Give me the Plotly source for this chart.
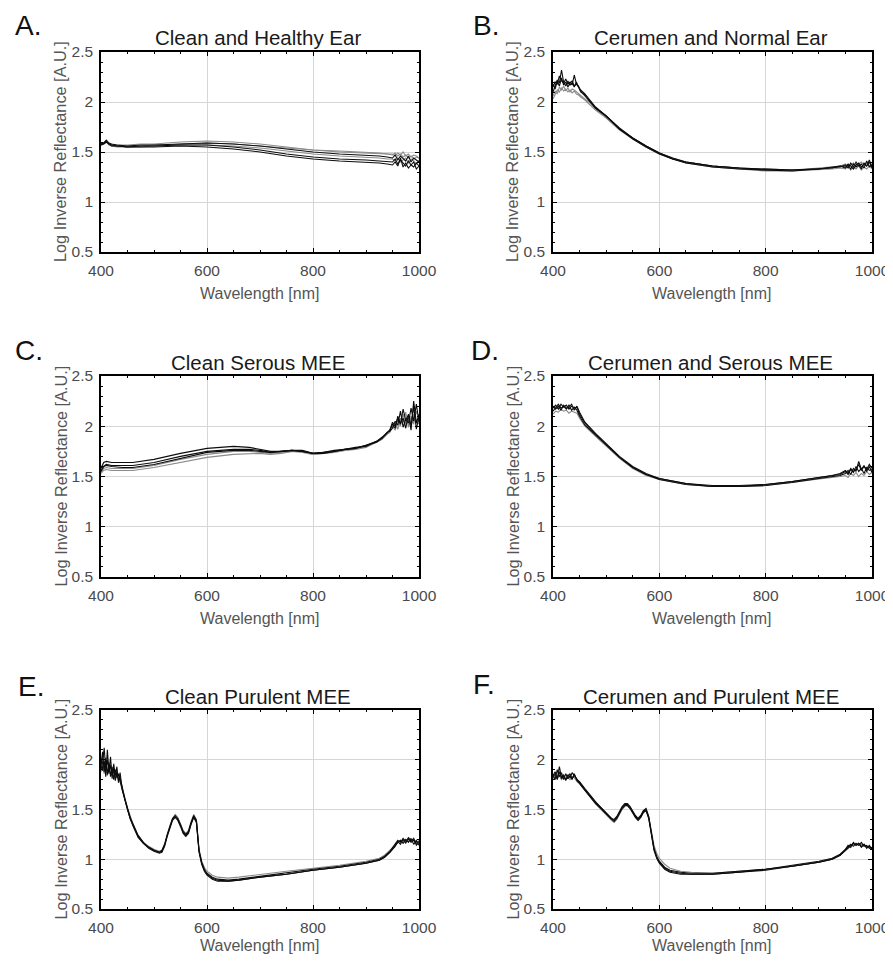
import plotly.graph_objects as go

# ---------------- DATA ----------------
panel_letters = ["A.", "B.", "C.", "D.", "E.", "F."]
panel_titles = ["Clean and Healthy Ear", "Cerumen and Normal Ear", "Clean Serous MEE",
                "Cerumen and Serous MEE", "Clean Purulent MEE", "Cerumen and Purulent MEE"]
x_title = "Wavelength [nm]"
y_title = "Log Inverse Reflectance [A.U.]"
x_ticks = [400, 600, 800, 1000]
y_ticks = [0.5, 1, 1.5, 2, 2.5]

# Panel A
wl_a = [400, 405, 410, 415, 420, 430, 450, 475, 500, 550, 600, 650, 700, 750, 800, 850, 900, 925, 940, 950,
        955, 960, 965, 970, 975, 980, 985, 990, 995, 1000]
a_1 = [1.57, 1.58, 1.60, 1.58, 1.57, 1.57, 1.57, 1.58, 1.58, 1.60, 1.61, 1.60, 1.58, 1.55, 1.52, 1.50, 1.49, 1.48, 1.48, 1.47,
       1.49, 1.46, 1.48, 1.45, 1.47, 1.44, 1.46, 1.43, 1.45, 1.44]
a_2 = [1.58, 1.59, 1.62, 1.59, 1.58, 1.57, 1.56, 1.57, 1.57, 1.58, 1.59, 1.58, 1.56, 1.53, 1.50, 1.48, 1.47, 1.46, 1.45, 1.44,
       1.47, 1.42, 1.46, 1.43, 1.41, 1.46, 1.40, 1.44, 1.42, 1.40]
a_3 = [1.57, 1.58, 1.60, 1.58, 1.57, 1.56, 1.56, 1.56, 1.57, 1.57, 1.57, 1.56, 1.54, 1.51, 1.48, 1.46, 1.45, 1.44, 1.43, 1.43,
       1.41, 1.44, 1.40, 1.42, 1.44, 1.39, 1.43, 1.41, 1.38, 1.42]
a_4 = [1.58, 1.59, 1.61, 1.58, 1.57, 1.56, 1.55, 1.56, 1.56, 1.57, 1.57, 1.55, 1.52, 1.48, 1.45, 1.43, 1.42, 1.41, 1.40, 1.40,
       1.43, 1.38, 1.42, 1.39, 1.36, 1.41, 1.37, 1.35, 1.39, 1.36]
a_5 = [1.57, 1.58, 1.60, 1.58, 1.56, 1.56, 1.55, 1.55, 1.55, 1.56, 1.55, 1.53, 1.50, 1.46, 1.43, 1.41, 1.40, 1.39, 1.38, 1.37,
       1.40, 1.36, 1.44, 1.35, 1.39, 1.34, 1.37, 1.40, 1.33, 1.36]
a_6 = [1.57, 1.58, 1.60, 1.57, 1.56, 1.55, 1.55, 1.55, 1.56, 1.58, 1.59, 1.58, 1.56, 1.54, 1.52, 1.51, 1.50, 1.49, 1.48, 1.48,
       1.46, 1.49, 1.47, 1.50, 1.46, 1.48, 1.45, 1.47, 1.46, 1.44]

# Panel B
wl_b = [400, 404, 408, 412, 416, 420, 424, 428, 432, 436, 440, 444, 448, 452,
        460, 470, 480, 500, 525, 550, 575, 600, 625, 650,
        700, 750, 800, 850, 900, 925, 940,
        950, 955, 960, 965, 970, 975, 980, 985, 990, 995, 1000]
b_1 = [2.15, 2.20, 2.18, 2.26, 2.21, 2.19, 2.23, 2.18, 2.20, 2.17, 2.27, 2.18, 2.15, 2.12,
       2.08, 2.01, 1.95, 1.86, 1.73, 1.63, 1.55, 1.48, 1.43, 1.39,
       1.35, 1.33, 1.32, 1.31, 1.33, 1.34, 1.35,
       1.37, 1.34, 1.39, 1.35, 1.40, 1.36, 1.38, 1.34, 1.41, 1.35, 1.37]
b_2 = [2.10, 2.17, 2.22, 2.19, 2.32, 2.20, 2.16, 2.21, 2.17, 2.19, 2.15, 2.20, 2.14, 2.10,
       2.07, 2.01, 1.94, 1.86, 1.73, 1.64, 1.56, 1.49, 1.43, 1.40,
       1.36, 1.34, 1.33, 1.32, 1.33, 1.35, 1.36,
       1.35, 1.38, 1.36, 1.33, 1.37, 1.39, 1.35, 1.38, 1.36, 1.40, 1.34]
b_3 = [2.03, 2.08, 2.12, 2.10, 2.14, 2.11, 2.13, 2.10, 2.12, 2.09, 2.11, 2.08, 2.07, 2.05,
       2.02, 1.97, 1.92, 1.84, 1.72, 1.63, 1.55, 1.48, 1.43, 1.39,
       1.35, 1.33, 1.31, 1.31, 1.32, 1.33, 1.34,
       1.33, 1.36, 1.32, 1.35, 1.33, 1.36, 1.32, 1.35, 1.33, 1.36, 1.33]
b_4 = [2.06, 2.11, 2.08, 2.15, 2.12, 2.16, 2.11, 2.14, 2.10, 2.13, 2.12, 2.10, 2.09, 2.07,
       2.03, 1.99, 1.93, 1.85, 1.73, 1.64, 1.56, 1.49, 1.44, 1.40,
       1.36, 1.34, 1.33, 1.32, 1.34, 1.35, 1.36,
       1.38, 1.35, 1.37, 1.39, 1.36, 1.38, 1.40, 1.37, 1.39, 1.36, 1.38]
b_5 = [2.18, 2.13, 2.21, 2.16, 2.24, 2.17, 2.20, 2.15, 2.19, 2.21, 2.16, 2.18, 2.16, 2.11,
       2.06, 2.00, 1.94, 1.86, 1.74, 1.64, 1.56, 1.49, 1.44, 1.40,
       1.36, 1.34, 1.32, 1.32, 1.33, 1.34, 1.36,
       1.34, 1.37, 1.33, 1.38, 1.35, 1.37, 1.33, 1.39, 1.36, 1.42, 1.35]

# Panel C
wl_c = [400, 405, 410, 420, 440, 460,
        500, 550, 600, 650, 680, 700, 720, 740, 760, 780, 800,
        820, 840, 860, 880, 900, 920, 930, 940,
        945, 950, 955, 960, 965, 970, 975, 980, 985, 990, 995, 1000]
c_1 = [1.58, 1.64, 1.65, 1.64, 1.64, 1.64,
       1.67, 1.73, 1.78, 1.80, 1.79, 1.77, 1.75, 1.75, 1.76, 1.75, 1.73,
       1.74, 1.76, 1.77, 1.78, 1.81, 1.85, 1.88, 1.93,
       1.96, 2.02, 1.98, 2.10, 2.03, 2.08, 1.98, 2.12, 2.01, 2.20, 1.97, 2.10]
c_2 = [1.56, 1.60, 1.62, 1.61, 1.61, 1.61,
       1.64, 1.70, 1.75, 1.77, 1.77, 1.76, 1.74, 1.75, 1.76, 1.76, 1.73,
       1.73, 1.75, 1.77, 1.78, 1.81, 1.84, 1.88, 1.94,
       1.95, 1.98, 2.05, 2.01, 2.15, 1.99, 2.07, 2.03, 2.18, 2.05, 2.22, 2.04]
c_3 = [1.54, 1.58, 1.59, 1.58, 1.58, 1.58,
       1.61, 1.67, 1.72, 1.75, 1.75, 1.74, 1.73, 1.74, 1.75, 1.75, 1.72,
       1.73, 1.75, 1.76, 1.78, 1.80, 1.84, 1.87, 1.92,
       1.94, 2.00, 1.96, 2.06, 2.00, 2.12, 2.02, 2.08, 2.00, 2.12, 2.06, 2.02]
c_4 = [1.53, 1.56, 1.57, 1.56, 1.56, 1.56,
       1.59, 1.64, 1.69, 1.72, 1.73, 1.73, 1.72, 1.73, 1.75, 1.74, 1.72,
       1.73, 1.74, 1.76, 1.77, 1.79, 1.84, 1.87, 1.93,
       1.97, 1.99, 2.03, 1.97, 2.08, 2.04, 2.14, 1.99, 2.10, 2.02, 2.15, 2.08]
c_5 = [1.55, 1.60, 1.61, 1.60, 1.59, 1.59,
       1.62, 1.68, 1.74, 1.76, 1.76, 1.75, 1.74, 1.75, 1.76, 1.75, 1.73,
       1.74, 1.75, 1.77, 1.79, 1.80, 1.85, 1.89, 1.94,
       1.96, 2.04, 2.00, 2.08, 2.02, 2.17, 2.06, 2.11, 1.96, 2.25, 2.03, 2.12]

# Panel D
wl_d = [400, 405, 410, 415, 420, 425, 430, 435, 440, 445,
        450, 460, 480, 500, 525, 550, 575, 600,
        650, 700, 750, 800, 850, 900, 925, 940,
        950, 955, 960, 965, 970, 975, 980, 985, 990, 995, 1000]
d_1 = [2.18, 2.21, 2.17, 2.22, 2.19, 2.21, 2.17, 2.20, 2.18, 2.19,
       2.12, 2.03, 1.92, 1.82, 1.69, 1.59, 1.52, 1.48,
       1.43, 1.40, 1.40, 1.42, 1.45, 1.49, 1.51, 1.52,
       1.55, 1.52, 1.57, 1.54, 1.60, 1.55, 1.58, 1.53, 1.59, 1.56, 1.57]
d_2 = [2.15, 2.19, 2.22, 2.18, 2.20, 2.17, 2.21, 2.16, 2.19, 2.16,
       2.10, 2.01, 1.91, 1.81, 1.69, 1.59, 1.52, 1.47,
       1.42, 1.40, 1.40, 1.41, 1.44, 1.48, 1.50, 1.51,
       1.53, 1.56, 1.52, 1.58, 1.55, 1.65, 1.57, 1.61, 1.55, 1.60, 1.54]
d_3 = [2.12, 2.15, 2.14, 2.17, 2.15, 2.16, 2.13, 2.15, 2.14, 2.13,
       2.08, 2.00, 1.90, 1.80, 1.68, 1.58, 1.51, 1.47,
       1.42, 1.40, 1.40, 1.41, 1.44, 1.47, 1.49, 1.50,
       1.51, 1.49, 1.53, 1.51, 1.54, 1.50, 1.53, 1.51, 1.55, 1.52, 1.54]
d_4 = [2.20, 2.17, 2.20, 2.16, 2.21, 2.18, 2.19, 2.22, 2.16, 2.20,
       2.14, 2.04, 1.93, 1.83, 1.70, 1.60, 1.53, 1.48,
       1.43, 1.41, 1.41, 1.42, 1.45, 1.49, 1.51, 1.53,
       1.56, 1.53, 1.58, 1.55, 1.57, 1.62, 1.56, 1.60, 1.57, 1.62, 1.58]

# Panel E
wl_e = [400, 403, 406, 409, 412, 415, 418, 421, 424, 427, 430, 433, 436,
        440, 445, 450, 455, 460,
        470, 480, 490, 500, 510,
        515, 520, 525, 530, 535, 540, 545, 550, 555, 560, 565, 570, 575, 580, 585, 590, 595, 600,
        610, 620, 640, 660, 700, 750, 800, 850, 900, 925, 935, 945, 955,
        960, 965, 970, 975, 980, 985, 990, 995, 1000]
e_1 = [1.95, 2.08, 1.88, 2.02, 1.85, 1.97, 1.83, 1.93, 1.80, 1.90, 1.82, 1.86, 1.78,
       1.71, 1.60, 1.50, 1.41, 1.35,
       1.23, 1.16, 1.12, 1.09, 1.07,
       1.08, 1.14, 1.24, 1.33, 1.40, 1.43, 1.40, 1.34, 1.27, 1.24, 1.27, 1.36, 1.43, 1.38, 1.08, 0.96, 0.89, 0.85,
       0.81, 0.79, 0.78, 0.79, 0.82, 0.85, 0.89, 0.92, 0.96, 0.99, 1.02, 1.07, 1.14,
       1.17, 1.19, 1.16, 1.20, 1.17, 1.21, 1.15, 1.19, 1.14]
e_2 = [1.90, 1.97, 2.12, 1.90, 2.00, 1.86, 1.95, 1.84, 1.91, 1.79, 1.88, 1.80, 1.82,
       1.72, 1.61, 1.51, 1.42, 1.36,
       1.24, 1.17, 1.12, 1.09, 1.07,
       1.09, 1.15, 1.25, 1.34, 1.41, 1.44, 1.41, 1.35, 1.28, 1.25, 1.28, 1.37, 1.44, 1.39, 1.09, 0.97, 0.90, 0.86,
       0.82, 0.80, 0.79, 0.80, 0.83, 0.86, 0.90, 0.93, 0.97, 1.00, 1.03, 1.08, 1.16,
       1.19, 1.17, 1.21, 1.18, 1.20, 1.17, 1.19, 1.16, 1.18]
e_3 = [1.88, 1.93, 1.86, 1.96, 1.84, 1.92, 1.87, 1.85, 1.89, 1.82, 1.84, 1.79, 1.80,
       1.73, 1.62, 1.52, 1.43, 1.36,
       1.24, 1.17, 1.13, 1.10, 1.08,
       1.09, 1.15, 1.25, 1.34, 1.41, 1.45, 1.42, 1.35, 1.29, 1.26, 1.29, 1.38, 1.45, 1.40, 1.10, 0.98, 0.92, 0.88,
       0.84, 0.82, 0.81, 0.82, 0.85, 0.88, 0.91, 0.94, 0.98, 1.01, 1.04, 1.09, 1.15,
       1.17, 1.19, 1.18, 1.19, 1.21, 1.18, 1.20, 1.17, 1.19]
e_4 = [2.02, 1.89, 1.99, 1.83, 2.10, 1.88, 2.03, 1.81, 1.96, 1.84, 1.93, 1.77, 1.87,
       1.70, 1.60, 1.50, 1.41, 1.34,
       1.22, 1.16, 1.11, 1.08, 1.06,
       1.07, 1.13, 1.23, 1.32, 1.39, 1.42, 1.39, 1.33, 1.26, 1.23, 1.26, 1.35, 1.42, 1.37, 1.07, 0.95, 0.88, 0.84,
       0.80, 0.78, 0.78, 0.79, 0.82, 0.85, 0.89, 0.92, 0.96, 0.99, 1.02, 1.07, 1.13,
       1.18, 1.15, 1.20, 1.16, 1.22, 1.18, 1.21, 1.14, 1.17]

# Panel F
wl_f = [400, 404, 408, 412, 416, 420, 424, 428, 432, 436, 440,
        445, 450, 460, 470, 480, 490, 500,
        510, 515, 520, 525, 530, 535, 540, 545, 550, 555, 560, 565, 570, 575, 580, 585, 590, 595, 600,
        610, 620, 640, 660, 700, 750, 800, 850, 900, 925, 940, 950,
        955, 960, 965, 970, 975, 980, 985, 990, 995, 1000]
f_1 = [1.82, 1.86, 1.80, 1.88, 1.81, 1.84, 1.79, 1.85, 1.82, 1.87, 1.84,
       1.80, 1.77, 1.70, 1.63, 1.57, 1.52, 1.46,
       1.41, 1.39, 1.42, 1.47, 1.52, 1.55, 1.55, 1.52, 1.47, 1.43, 1.40, 1.43, 1.48, 1.50, 1.42, 1.24, 1.10, 1.02, 0.97,
       0.91, 0.88, 0.86, 0.85, 0.85, 0.87, 0.90, 0.93, 0.97, 1.00, 1.04, 1.09,
       1.12, 1.14, 1.16, 1.14, 1.16, 1.13, 1.15, 1.12, 1.13, 1.10]
f_2 = [1.85, 1.80, 1.90, 1.83, 1.87, 1.80, 1.86, 1.81, 1.84, 1.80, 1.86,
       1.79, 1.76, 1.69, 1.62, 1.56, 1.51, 1.45,
       1.40, 1.38, 1.41, 1.46, 1.51, 1.54, 1.54, 1.51, 1.46, 1.42, 1.39, 1.42, 1.47, 1.49, 1.41, 1.23, 1.09, 1.01, 0.96,
       0.90, 0.87, 0.85, 0.85, 0.85, 0.87, 0.89, 0.93, 0.97, 1.00, 1.04, 1.10,
       1.13, 1.15, 1.13, 1.16, 1.14, 1.17, 1.13, 1.14, 1.11, 1.12]
f_3 = [1.80, 1.83, 1.81, 1.84, 1.80, 1.83, 1.81, 1.82, 1.80, 1.83, 1.82,
       1.78, 1.76, 1.69, 1.62, 1.56, 1.50, 1.44,
       1.39, 1.37, 1.40, 1.45, 1.50, 1.53, 1.54, 1.51, 1.46, 1.42, 1.39, 1.42, 1.47, 1.49, 1.43, 1.27, 1.14, 1.06, 1.01,
       0.95, 0.91, 0.88, 0.87, 0.86, 0.88, 0.90, 0.93, 0.97, 1.00, 1.04, 1.09,
       1.11, 1.14, 1.15, 1.15, 1.14, 1.15, 1.14, 1.13, 1.12, 1.11]
f_4 = [1.84, 1.88, 1.81, 1.93, 1.82, 1.85, 1.80, 1.83, 1.86, 1.81, 1.85,
       1.80, 1.78, 1.71, 1.64, 1.58, 1.52, 1.46,
       1.41, 1.40, 1.43, 1.48, 1.53, 1.56, 1.56, 1.53, 1.48, 1.44, 1.41, 1.44, 1.49, 1.51, 1.43, 1.25, 1.11, 1.03, 0.98,
       0.92, 0.89, 0.87, 0.86, 0.86, 0.88, 0.90, 0.94, 0.98, 1.01, 1.05, 1.10,
       1.14, 1.12, 1.17, 1.14, 1.16, 1.12, 1.15, 1.11, 1.14, 1.10]

# ---------------- STYLE ----------------
OFF = 8                       # the page body adds an 8px margin around the figure
W, H = 893 - OFF, 963 - 2 * OFF   # keep page height inside the window (no scrollbar)
BLACK, GRAY = "#0d0d0d", "#8a8a8a"

panels = [
    (wl_a, [(a_6, GRAY), (a_1, GRAY), (a_3, GRAY), (a_2, BLACK), (a_4, BLACK), (a_5, BLACK)]),
    (wl_b, [(b_3, GRAY), (b_4, GRAY), (b_1, BLACK), (b_2, BLACK), (b_5, BLACK)]),
    (wl_c, [(c_3, GRAY), (c_4, GRAY), (c_1, BLACK), (c_2, BLACK), (c_5, BLACK)]),
    (wl_d, [(d_3, GRAY), (d_1, BLACK), (d_2, BLACK), (d_4, BLACK)]),
    (wl_e, [(e_3, GRAY), (e_1, BLACK), (e_2, BLACK), (e_4, BLACK)]),
    (wl_f, [(f_3, GRAY), (f_1, BLACK), (f_2, BLACK), (f_4, BLACK)]),
]

# plot-area pixel boxes in the page: (left, right, top, bottom)
col_px = [(101, 419), (553, 872)]
row_px = [(52, 252), (376, 577), (710, 909)]
letter_px = [(13, None), (471, None), (13, 350), (469, 351), (16, 686), (471, 684)]

FONT = "Liberation Sans, Arial, sans-serif"
fig = go.Figure()
annotations = []

def px(x):
    return (x - OFF) / W

def py(y):
    return 1 - (y - OFF) / H

for i, (wl, lines) in enumerate(panels):
    r, c = divmod(i, 2)
    left, right = col_px[c]
    top, bottom = row_px[r]
    sfx = "" if i == 0 else str(i + 1)
    for vals, col in lines:
        assert len(vals) == len(wl), (i, len(vals), len(wl))
        fig.add_trace(go.Scatter(x=wl, y=vals, mode="lines",
                                 line=dict(color=col, width=1.1),
                                 xaxis="x" + sfx, yaxis="y" + sfx,
                                 showlegend=False, hoverinfo="skip"))
    common = dict(showline=True, linecolor="black", linewidth=1.6, mirror="ticks",
                  ticks="inside", ticklen=4, tickwidth=1.2, tickcolor="black",
                  showgrid=True, gridcolor="#d6d6d6", gridwidth=1, zeroline=False,
                  automargin=False,
                  tickfont=dict(family=FONT, size=15.5, color="#4a4a4a"))
    fig.update_layout(**{
        "xaxis" + sfx: dict(domain=[px(left), px(right)], anchor="y" + sfx,
                            range=[400, 1000], tickvals=x_ticks, ticklabelstandoff=4,
                            minor=dict(dtick=50, ticks="inside", ticklen=2.5, tickcolor="black",
                                       showgrid=False),
                            **common),
        "yaxis" + sfx: dict(domain=[py(bottom), py(top)], anchor="x" + sfx,
                            range=[0.5, 2.5], tickvals=y_ticks, ticklabelstandoff=3,
                            minor=dict(dtick=0.1, ticks="inside", ticklen=2.5, tickcolor="black",
                                       showgrid=False),
                            **common),
    })
    cx = (left + right) / 2
    cy = (top + bottom) / 2
    annotations.append(dict(text=panel_titles[i], x=px(cx - 2), y=py(top - 14), xref="paper", yref="paper",
                            showarrow=False, xanchor="center", yanchor="middle",
                            font=dict(family=FONT, size=20.5, color="#1a1a1a")))
    annotations.append(dict(text=x_title, x=px(cx - 1), y=py(min(bottom + 41, 945)), xref="paper", yref="paper",
                            showarrow=False, xanchor="center", yanchor="middle",
                            font=dict(family=FONT, size=16, color="#555555")))
    annotations.append(dict(text=y_title, x=px(left - 41), y=py(cy), xref="paper", yref="paper",
                            showarrow=False, xanchor="center", yanchor="middle", textangle=-90,
                            font=dict(family=FONT, size=16.3, color="#555555")))
    lx, ly = letter_px[i]
    if ly is None:
        ann_y, ann_anchor = 1.0, "top"
    else:
        ann_y, ann_anchor = py(ly), "middle"
    annotations.append(dict(text=panel_letters[i], x=px(lx), y=ann_y, xref="paper", yref="paper",
                            showarrow=False, xanchor="left", yanchor=ann_anchor,
                            font=dict(family=FONT, size=28, color="#111111")))

fig.update_layout(width=W, height=H, margin=dict(l=0, r=0, t=0, b=0),
                  paper_bgcolor="white", plot_bgcolor="white",
                  annotations=annotations, showlegend=False)

fig.write_html("out.html")
